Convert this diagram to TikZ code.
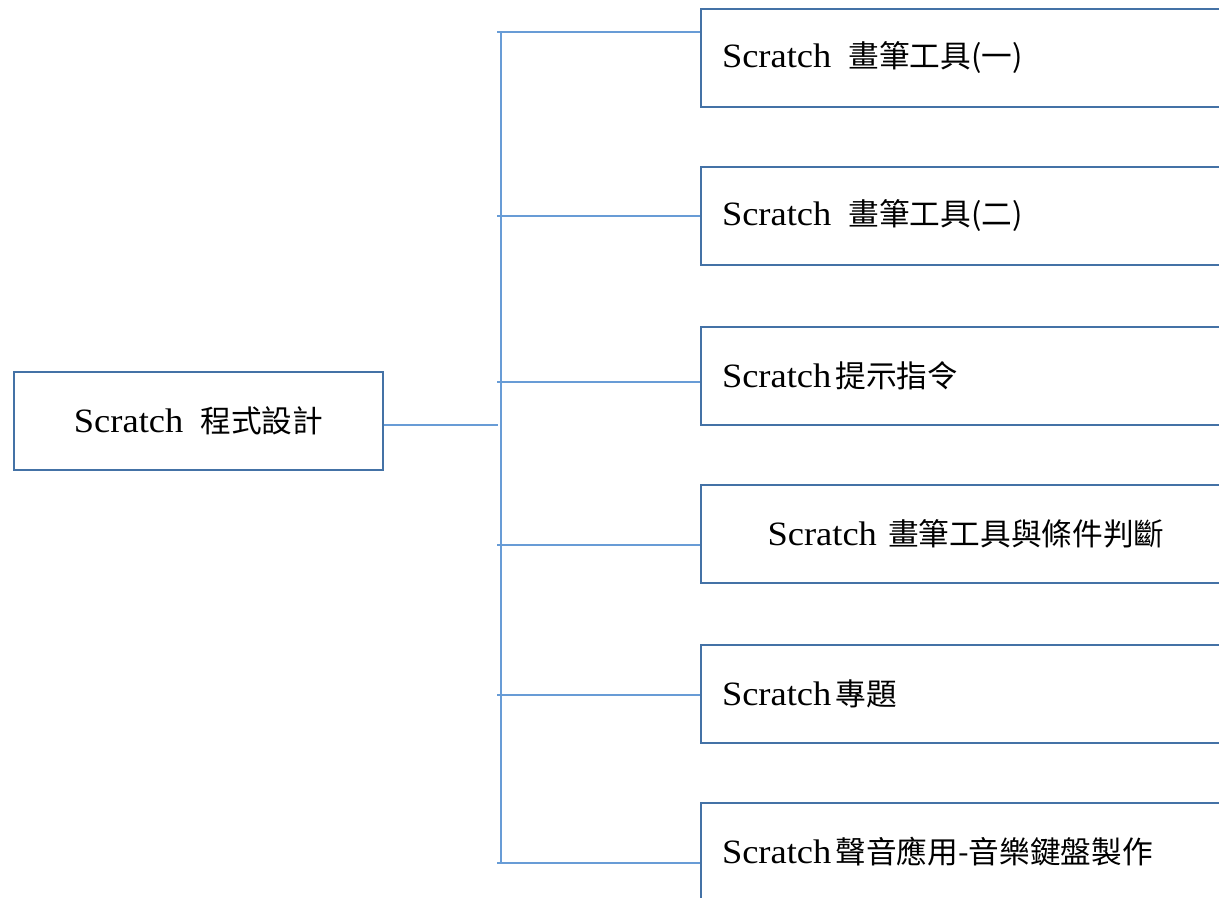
\documentclass[tikz,border=0pt]{standalone}
\usepackage{fontspec}
\setmainfont{Liberation Serif}[FakeStretch=1.07]
\newfontfamily\cjk[Scale=0.9]{Noto Sans CJK TC}
\usetikzlibrary{positioning}
\definecolor{boxblue}{RGB}{68,114,166}
\definecolor{lineblue}{RGB}{104,156,214}
\tikzset{
  rootbox/.style={draw=boxblue, line width=0.65pt, minimum width=36.9mm, minimum height=9.8mm,
    inner sep=0pt, font=\fontsize{9.7}{11}\selectfont},
  itembox/.style={draw=boxblue, line width=0.65pt, minimum width=53mm, minimum height=9.8mm,
    text width=48.8mm, inner xsep=2.1mm, inner ysep=0pt, align=left, font=\fontsize{9.7}{11}\selectfont},
  link/.style={draw=lineblue, line width=0.35pt}
}
\begin{document}
\begin{tikzpicture}[x=0.1mm,y=-0.1mm]
  %\draw [help lines] (0,0) grid [step=100] (1219,898);
  \useasboundingbox (0,0) rectangle (1219,898);
  \clip (0,0) rectangle (1219,898);
  \node [rootbox] (root) at (198.5,421) {Scratch\hspace{1.7mm}{\cjk 程式設計}};
  \node [itembox] (s1) at (966,58) {Scratch\hspace{1.7mm}{\cjk 畫筆工具(一)}};
  \node [itembox] (s2) at (966,216) {Scratch\hspace{1.7mm}{\cjk 畫筆工具(二)}};
  \node [itembox] (s3) at (966,376) {Scratch\hspace{0.4mm}{\cjk 提示指令}};
  \node [itembox, align=center] (s4) at (966,534) {Scratch {\cjk 畫筆工具與條件判斷}};
  \node [itembox] (s5) at (966,694) {Scratch\hspace{0.4mm}{\cjk 專題}};
  \node [itembox] (s6) at (966,852) {Scratch\hspace{0.4mm}{\cjk 聲音應用-音樂鍵盤製作}};
  % trunk
  \coordinate (top) at (501,32);
  \coordinate (bottom) at (501,863);
  \draw [link] (top) -- (bottom);
  \coordinate (jr) at (498,425);
  \draw [link] (root.east |- jr) -- (jr);
  \foreach \b/\y in {s1/32,s2/216,s3/382,s4/545,s5/695,s6/863} {
    \coordinate (j\b) at (497,\y);
    \draw [link] (j\b) -- (j\b -| \b.west);
  }
\end{tikzpicture}
\end{document}
